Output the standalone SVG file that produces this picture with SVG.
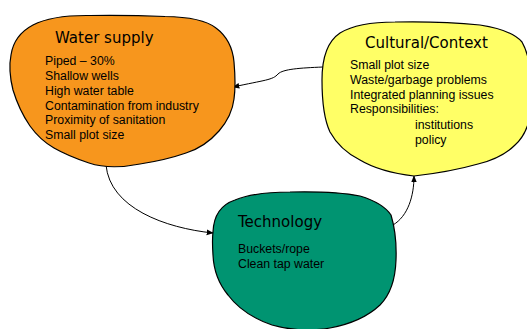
<svg xmlns="http://www.w3.org/2000/svg" width="527" height="329" viewBox="0 0 527 329">
<defs>
<style>
.blob{stroke:#000;stroke-width:1.2;stroke-linejoin:round}
.title{font-family:"DejaVu Sans",sans-serif;font-size:15px;fill:#000}
.body{font-family:"Liberation Sans",Arial,sans-serif;font-size:12.3px;fill:#000}
.conn{fill:none;stroke:#000;stroke-width:1}
</style>
<marker id="arr" viewBox="0 0 10 10" refX="9" refY="5" markerWidth="7" markerHeight="7" markerUnits="userSpaceOnUse" orient="auto">
<path d="M0,1 L10,5 L0,9 Z" fill="#000"/>
</marker>
</defs>
<rect width="527" height="329" fill="#fff"/>
<g id="connectors">
<path class="conn" d="M323,67 C300,68 283,69 278,74 C273,80 265,80 233,87" marker-end="url(#arr)"/>
<path class="conn" d="M106,165 C110,208 165,228 213,233" marker-end="url(#arr)"/>
<path class="conn" d="M393,225 C408,216 414,196 414,176" marker-end="url(#arr)"/>
</g>
<g id="water-supply">
<path class="blob" fill="#F7961D" d="M11,55 Q14,35 33,25 Q52,15 90,15.5 Q130,15 165,16.5 Q202,17 216,28 Q232,40 234,62 Q236,85 234,99 Q232,116 219,131 Q205,147 186,153 Q166,160 140,164 Q110,170 89,163 Q68,156 54,148 Q40,140 30,126 Q19,110 13,90 Q8,70 11,55 Z"/>
<text class="title" x="55" y="43">Water supply</text>
<text class="body" x="45" y="65">Piped – 30%</text>
<text class="body" x="45" y="80">Shallow wells</text>
<text class="body" x="45" y="95">High water table</text>
<text class="body" x="45" y="110">Contamination from industry</text>
<text class="body" x="45" y="124">Proximity of sanitation</text>
<text class="body" x="45" y="139">Small plot size</text>
</g>
<g id="cultural-context">
<path class="blob" fill="#FFFF66" d="M322,80 Q322,45 340,33 Q358,22 395,22 Q440,21 480,25 Q512,30 522,42 Q532,60 532,95 Q532,130 515,145 Q502,158 478,164 Q450,172 414,176 Q380,172 360,160 Q340,150 330,132 Q322,115 322,80 Z"/>
<text class="title" x="365" y="48">Cultural/Context</text>
<text class="body" x="350" y="69">Small plot size</text>
<text class="body" x="350" y="84">Waste/garbage problems</text>
<text class="body" x="350" y="99">Integrated planning issues</text>
<text class="body" x="350" y="113">Responsibilities:</text>
<text class="body" x="415" y="129">institutions</text>
<text class="body" x="415" y="144">policy</text>
</g>
<g id="technology">
<path class="blob" fill="#009471" d="M213,232 Q214,207 235,200 Q255,192 290,192 Q335,191 360,196 Q383,203 391,215 Q397,235 396,260 Q395,290 380,305 Q362,322 330,328 Q300,333 272,325 Q243,315 228,295 Q214,278 213,255 Q212,240 213,232 Z"/>
<text class="title" x="238" y="227">Technology</text>
<text class="body" x="238" y="253">Buckets/rope</text>
<text class="body" x="238" y="268">Clean tap water</text>
</g>
</svg>
